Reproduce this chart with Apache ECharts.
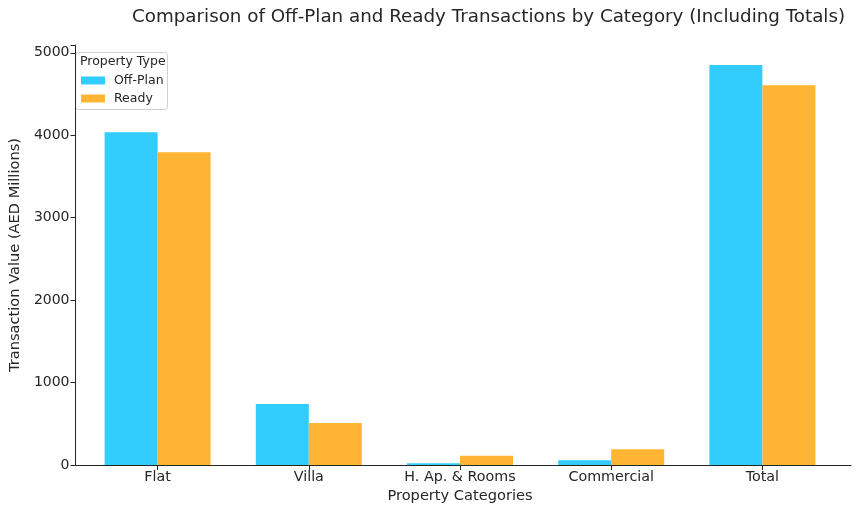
<!DOCTYPE html>
<html>
<head>
<meta charset="utf-8">
<script src="https://cdn.jsdelivr.net/npm/echarts@6/dist/echarts.min.js"></script>
<style>html,body{margin:0;padding:0;background:#fff;}#c{width:860px;height:511px;}</style>
</head>
<body>
<div id="c"></div>
<script>
const categories = ['Flat', 'Villa', 'H. Ap. & Rooms', 'Commercial', 'Total'];
const offPlan = [4036, 739, 20, 57, 4852];
const ready = [3794, 509, 113, 190, 4606];
const seriesNames = ['Off-Plan', 'Ready'];
const yTicks = [0, 1000, 2000, 3000, 4000, 5000];

const FONT = 'DejaVu Sans';
const TXT = '#262626';
const yMax = 5095;

const chart = echarts.init(document.getElementById('c'), null, {renderer: 'canvas'});
chart.setOption({
  animation: false,
  backgroundColor: '#fff',
  title: {
    text: 'Comparison of Off-Plan and Ready Transactions by Category (Including Totals)',
    left: 127, top: 3,
    textStyle: {fontFamily: FONT, fontSize: 18.3, fontWeight: 'normal', color: TXT}
  },
  grid: [
    {left: 69, right: 9, top: 45, bottom: 46},
    {left: 82, right: 22, top: 45, bottom: 46}
  ],
  xAxis: [
    {gridIndex: 0, type: 'value', min: 0, max: 1, axisLabel: {show: false}, axisTick: {show: false},
     splitLine: {show: false}, axisLine: {show: true, lineStyle: {color: TXT, width: 1}}},
    {gridIndex: 1, type: 'category', data: categories,
     axisLine: {show: false}, axisTick: {show: true, alignWithLabel: true, length: 5, lineStyle: {color: TXT}},
     axisLabel: {fontFamily: FONT, fontSize: 14.3, color: TXT, margin: 5, interval: 0},
     name: 'Property Categories', nameLocation: 'middle', nameGap: 23,
     nameTextStyle: {fontFamily: FONT, fontSize: 14.6, color: TXT}}
  ],
  yAxis: [
    {gridIndex: 0, type: 'value', min: 0, max: yMax, interval: 1000,
     axisLine: {show: true, lineStyle: {color: TXT, width: 1}},
     axisTick: {show: true, length: 5, lineStyle: {color: TXT}},
     axisLabel: {fontFamily: FONT, fontSize: 14, color: TXT, margin: 6,
       formatter: v => yTicks.includes(v) ? String(v) : ''},
     splitLine: {show: false},
     name: 'Transaction Value (AED Millions)', nameLocation: 'middle', nameGap: 49,
     nameTextStyle: {fontFamily: FONT, fontSize: 14.6, color: TXT}},
    {gridIndex: 1, type: 'value', min: 0, max: yMax, show: false, splitLine: {show: false}}
  ],
  legend: {
    orient: 'vertical', left: 81, top: 74, padding: 0, itemWidth: 24, itemHeight: 8, itemGap: 5,
    icon: 'rect',
    data: seriesNames,
    textStyle: {fontFamily: FONT, fontSize: 12.5, color: TXT, padding: [0, 0, 0, 4]}
  },
  graphic: [
    {type: 'rect', z: 0, shape: {x: 75.5, y: 52.5, width: 92, height: 57, r: 3},
     style: {fill: 'rgba(255,255,255,0.8)', stroke: '#d0d0d0', lineWidth: 1}},
    {type: 'text', z: 1, left: 80, top: 55,
     style: {text: 'Property Type', font: '12.5px "DejaVu Sans"', fill: TXT}}
  ],
  series: [
    {name: seriesNames[0], type: 'bar', xAxisIndex: 1, yAxisIndex: 1, data: offPlan,
     barWidth: 53, barGap: '0%', itemStyle: {color: '#33CCFF'}},
    {name: seriesNames[1], type: 'bar', xAxisIndex: 1, yAxisIndex: 1, data: ready,
     barWidth: 53, barGap: '0%', itemStyle: {color: '#FFB533'}}
  ]
});
</script>
</body>
</html>
